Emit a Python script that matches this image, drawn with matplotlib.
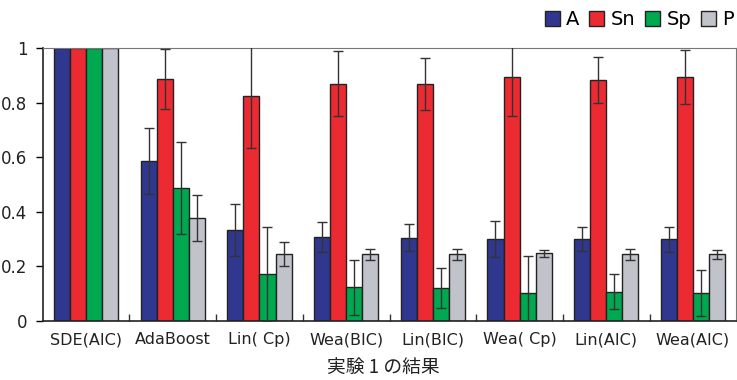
import matplotlib
matplotlib.use('Agg')
import matplotlib.pyplot as plt
from matplotlib.patches import Patch
import numpy as np

plt.rcParams['font.family'] = ['DejaVu Sans', 'Noto Sans CJK JP']

methods = ['SDE(AIC)', 'AdaBoost', 'Lin( Cp)', 'Wea(BIC)', 'Lin(BIC)', 'Wea( Cp)', 'Lin(AIC)', 'Wea(AIC)']
series = ['A', 'Sn', 'Sp', 'P']

A = [1.0, 0.586, 0.333, 0.308, 0.305, 0.300, 0.300, 0.300]
Sn = [1.0, 0.886, 0.825, 0.869, 0.869, 0.893, 0.882, 0.893]
Sp = [1.0, 0.487, 0.172, 0.123, 0.120, 0.103, 0.107, 0.103]
P = [1.0, 0.377, 0.245, 0.244, 0.244, 0.248, 0.244, 0.244]

A_err = [0, 0.119, 0.096, 0.056, 0.049, 0.067, 0.045, 0.046]
Sn_err = [0, 0.110, 0.190, 0.120, 0.095, 0.143, 0.083, 0.100]
Sp_err = [0, 0.168, 0.173, 0.100, 0.073, 0.136, 0.064, 0.085]
P_err = [0, 0.083, 0.045, 0.020, 0.021, 0.013, 0.020, 0.015]

colors = ['#30378f', '#ec2a31', '#00a84f', '#c0c3ca']

fig = plt.figure(figsize=(7.37, 3.8), dpi=100)
ax = fig.add_axes([0.058, 0.155, 0.941, 0.719])

x = np.arange(len(methods))
w = 0.185
vals = [A, Sn, Sp, P]
errs = [A_err, Sn_err, Sp_err, P_err]
for i in range(4):
    pos = x + (i - 1.5) * w
    ax.bar(pos, vals[i], w, color=colors[i], edgecolor='#222222', linewidth=1.0, zorder=2)
    e = np.array(errs[i])
    m = e > 0
    ax.errorbar(pos[m], np.array(vals[i])[m], yerr=e[m], fmt='none', ecolor='#333333',
                elinewidth=1.0, capsize=3.5, capthick=1.0, zorder=3)

ax.set_xlim(-0.5, len(methods) - 0.5)
ax.set_ylim(0, 1)
ax.set_yticks([0, 0.2, 0.4, 0.6, 0.8, 1])
ax.set_yticklabels(['0', '0.2', '0.4', '0.6', '0.8', '1'], fontsize=12, color='#222222')
ax.set_xticks(x)
ax.set_xticklabels(methods, fontsize=11.5, color='#222222')
ax.tick_params(axis='x', length=0, pad=8)
ax.tick_params(axis='y', direction='out', length=5, width=1, pad=6)
ax.set_xticks(np.arange(0.5, len(methods) - 0.5, 1), minor=True)
ax.tick_params(axis='x', which='minor', direction='in', length=5, width=1, color='#333333')

ax.spines['left'].set_color('#222222')
ax.spines['bottom'].set_color('#222222')
ax.spines['left'].set_linewidth(1.2)
ax.spines['bottom'].set_linewidth(1.2)
ax.spines['top'].set_color('#777777')
ax.spines['right'].set_color('#777777')

handles = [Patch(facecolor=colors[i], edgecolor='#222222', label=series[i]) for i in range(4)]
fig.legend(handles=handles, loc='upper right', bbox_to_anchor=(0.996, 0.973), ncol=4, frameon=False,
           fontsize=14, handlelength=0.75, handleheight=0.75, handletextpad=0.35, columnspacing=0.5,
           borderpad=0, borderaxespad=0)

fig.text(0.52, 0.034, '実験 1 の結果', ha='center', va='center', fontsize=13.5, color='#222222',
         family=['Noto Sans CJK JP', 'DejaVu Sans'])

fig.savefig('out.png', dpi=100)
